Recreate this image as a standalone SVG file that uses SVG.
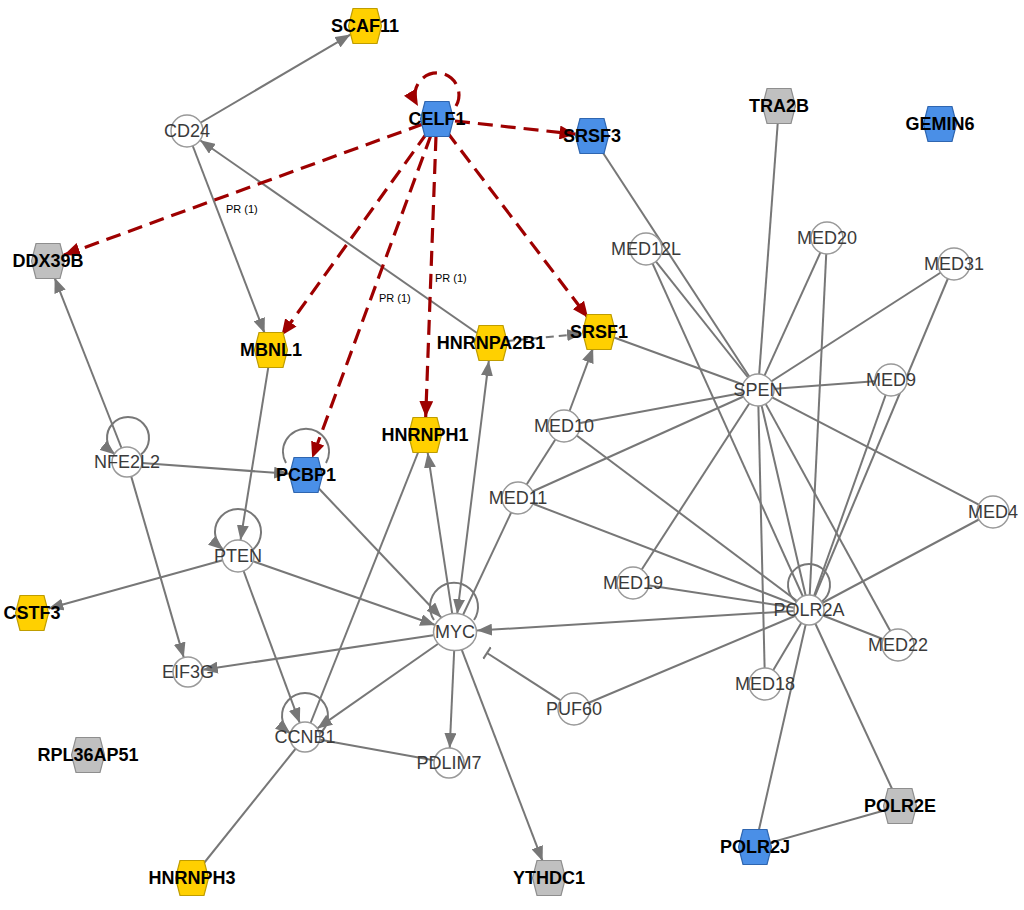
<svg xmlns="http://www.w3.org/2000/svg" xmlns:xlink="http://www.w3.org/1999/xlink" width="1024" height="910" viewBox="0 0 1024 910">
<style>
.e{stroke:#777;stroke-width:2;fill:none}
.ea{stroke:#777;stroke-width:2;fill:none;marker-end:url(#ag)}
.ed{stroke:#777;stroke-width:2;fill:none;stroke-dasharray:8 5;marker-end:url(#ag)}
.r{stroke:#9E0000;stroke-width:3.2;fill:none;stroke-dasharray:15 8;marker-end:url(#ar)}
.c{fill:#fff;stroke:#999;stroke-width:1.5}
.yel{fill:#FFD000;stroke:#BF9D00;stroke-width:1.2}
.blu{fill:#4A8FE7;stroke:#2F66B0;stroke-width:1.2}
.gry{fill:#C0C0C0;stroke:#8E8E8E;stroke-width:1.2}
.lb{font-family:"Liberation Sans",Arial,sans-serif;font-weight:bold;font-size:18px;fill:#000;text-anchor:middle}
.lc{font-family:"Liberation Sans",Arial,sans-serif;font-size:18px;fill:#3a3a3a;text-anchor:middle}
.pr{font-family:"Liberation Sans",Arial,sans-serif;font-size:11px;fill:#000}
</style>
<defs>
<polygon id="hex" points="-12,-17.5 12,-17.5 16.5,0 12,17.5 -12,17.5 -16.5,0"/>
<marker id="ag" markerUnits="userSpaceOnUse" markerWidth="15" markerHeight="12" refX="15" refY="6" orient="auto-start-reverse"><path d="M0,0 L15,6 L0,12 z" fill="#777"/></marker>
<marker id="ar" markerUnits="userSpaceOnUse" markerWidth="16" markerHeight="14" refX="16" refY="7" orient="auto"><path d="M0,0 L16,7 L0,14 z" fill="#9E0000"/></marker>
<marker id="tee" markerUnits="userSpaceOnUse" markerWidth="4" markerHeight="14" refX="2" refY="7" orient="auto"><path d="M2,0 L2,14" stroke="#777" stroke-width="2"/></marker>
</defs>
<rect width="1024" height="910" fill="#fff"/>
<g id="connectors">
<line class="e" x1="592" y1="136" x2="758" y2="390"/>
<line class="e" x1="779" y1="106" x2="758" y2="390"/>
<line class="e" x1="646" y1="249" x2="758" y2="390"/>
<line class="e" x1="646" y1="249" x2="809" y2="610"/>
<line class="e" x1="827" y1="238" x2="758" y2="390"/>
<line class="e" x1="827" y1="238" x2="809" y2="610"/>
<line class="e" x1="954" y1="264" x2="758" y2="390"/>
<line class="e" x1="954" y1="264" x2="809" y2="610"/>
<line class="e" x1="891" y1="380" x2="758" y2="390"/>
<line class="e" x1="891" y1="380" x2="809" y2="610"/>
<line class="e" x1="599" y1="332" x2="758" y2="390"/>
<line class="e" x1="564" y1="426" x2="758" y2="390"/>
<line class="e" x1="564" y1="426" x2="809" y2="610"/>
<line class="e" x1="518" y1="498" x2="758" y2="390"/>
<line class="e" x1="518" y1="498" x2="809" y2="610"/>
<line class="e" x1="518" y1="498" x2="564" y2="426"/>
<line class="e" x1="455" y1="632" x2="518" y2="498"/>
<line class="e" x1="633" y1="583" x2="758" y2="390"/>
<line class="e" x1="633" y1="583" x2="809" y2="610"/>
<line class="e" x1="993" y1="512" x2="758" y2="390"/>
<line class="e" x1="993" y1="512" x2="809" y2="610"/>
<line class="e" x1="898" y1="645" x2="758" y2="390"/>
<line class="e" x1="898" y1="645" x2="809" y2="610"/>
<line class="e" x1="765" y1="684" x2="758" y2="390"/>
<line class="e" x1="765" y1="684" x2="809" y2="610"/>
<line class="e" x1="758" y1="390" x2="809" y2="610"/>
<line class="e" x1="809" y1="610" x2="574" y2="709"/>
<line class="e" x1="809" y1="610" x2="755" y2="847"/>
<line class="e" x1="809" y1="610" x2="900" y2="806"/>
<line class="e" x1="755" y1="847" x2="900" y2="806"/>
<line class="e" x1="305" y1="737" x2="449" y2="763"/>
<line class="e" x1="305" y1="737" x2="425" y2="435"/>
<line class="e" x1="305" y1="737" x2="192" y2="878"/>
<line class="ea" x1="200" y1="123" x2="350.4" y2="34.6"/>
<line class="ea" x1="192.4" y1="145" x2="264.6" y2="333.2"/>
<line class="ea" x1="477" y1="333" x2="200.1" y2="140.2"/>
<line class="ed" x1="507" y1="341" x2="582" y2="333.7"/>
<line class="ea" x1="569.2" y1="412" x2="593.1" y2="347.9"/>
<line class="ea" x1="268.2" y1="367.8" x2="240.5" y2="540.2"/>
<line class="ea" x1="121.5" y1="448" x2="54.6" y2="277.8"/>
<line class="ea" x1="142" y1="463" x2="289" y2="473.8"/>
<line class="ea" x1="131.2" y1="476.4" x2="183.8" y2="657.6"/>
<line class="ea" x1="222.6" y1="560.3" x2="48.4" y2="608.5"/>
<line class="ea" x1="253.1" y1="561.3" x2="435.2" y2="625"/>
<line class="ea" x1="243.6" y1="571" x2="299.8" y2="722.9"/>
<line class="ea" x1="317.7" y1="487.3" x2="441.2" y2="617.5"/>
<line class="ea" x1="452.3" y1="614.2" x2="427.7" y2="452.8"/>
<line class="ea" x1="457.2" y1="614.1" x2="488.8" y2="360.9" marker-start="url(#ag)"/>
<line class="ea" x1="433.2" y1="635.3" x2="202.8" y2="669.8"/>
<line class="ea" x1="437.8" y1="644" x2="317.3" y2="728.4"/>
<line class="ea" x1="454.2" y1="650" x2="449.7" y2="748"/>
<line class="ea" x1="461.4" y1="648.8" x2="542.6" y2="861.2"/>
<line class="ea" x1="794" y1="611" x2="477" y2="630.6"/>
<line class="e" x1="561.4" y1="700.9" x2="487" y2="653" marker-end="url(#tee)"/>
<path class="ea" d="M252.7,549.7 A23,23 0 1 0 223.3,549.7"/>
<path class="ea" d="M141,454.5 A21,21 0 1 0 115,454.5"/>
<path class="ea" d="M319.6,733.7 A23,23 0 1 0 290.4,733.7"/>
<path class="e" d="M474,620 A24,24 0 1 0 434,620"/>
<path class="e" d="M326,463 A23,23 0 1 0 286,463"/>
<path class="e" d="M821.6,601.8 A21,21 0 1 0 796.4,601.8"/>
<line class="r" x1="455" y1="121" x2="575.6" y2="134.2"/>
<line class="r" x1="423" y1="124" x2="64" y2="255"/>
<line class="r" x1="427" y1="133" x2="281.5" y2="335.4"/>
<line class="r" x1="431" y1="135" x2="312.2" y2="458.1"/>
<line class="r" x1="436" y1="136" x2="425.7" y2="417"/>
<line class="r" x1="447" y1="132" x2="588.1" y2="317.7"/>
<path class="r" d="M456,106 A22,22 0 1 0 418,106"/>
<text class="pr" x="226" y="213">PR (1)</text>
<text class="pr" x="379" y="302">PR (1)</text>
<text class="pr" x="435" y="282">PR (1)</text>
</g>
<g id="n-SCAF11"><use href="#hex" x="365" y="26" class="yel"/><text class="lb" x="365" y="32">SCAF11</text></g>
<g id="n-CD24"><circle class="c" cx="187" cy="131" r="16"/><text class="lc" x="187" y="137">CD24</text></g>
<g id="n-CELF1"><use href="#hex" x="437" y="119" class="blu"/><text class="lb" x="437" y="125">CELF1</text></g>
<g id="n-SRSF3"><use href="#hex" x="592" y="136" class="blu"/><text class="lb" x="592" y="142">SRSF3</text></g>
<g id="n-TRA2B"><use href="#hex" x="779" y="106" class="gry"/><text class="lb" x="779" y="112">TRA2B</text></g>
<g id="n-GEMIN6"><use href="#hex" x="940" y="124" class="blu"/><text class="lb" x="940" y="130">GEMIN6</text></g>
<g id="n-DDX39B"><use href="#hex" x="48" y="261" class="gry"/><text class="lb" x="48" y="267">DDX39B</text></g>
<g id="n-MED12L"><circle class="c" cx="646" cy="249" r="16"/><text class="lc" x="646" y="255">MED12L</text></g>
<g id="n-MED20"><circle class="c" cx="827" cy="238" r="16"/><text class="lc" x="827" y="244">MED20</text></g>
<g id="n-MED31"><circle class="c" cx="954" cy="264" r="16"/><text class="lc" x="954" y="270">MED31</text></g>
<g id="n-MBNL1"><use href="#hex" x="271" y="350" class="yel"/><text class="lb" x="271" y="356">MBNL1</text></g>
<g id="n-HNRNPA2B1"><use href="#hex" x="491" y="343" class="yel"/><text class="lb" x="491" y="349">HNRNPA2B1</text></g>
<g id="n-SRSF1"><use href="#hex" x="599" y="332" class="yel"/><text class="lb" x="599" y="338">SRSF1</text></g>
<g id="n-SPEN"><circle class="c" cx="758" cy="390" r="16"/><text class="lc" x="758" y="396">SPEN</text></g>
<g id="n-MED9"><circle class="c" cx="891" cy="380" r="16"/><text class="lc" x="891" y="386">MED9</text></g>
<g id="n-MED10"><circle class="c" cx="564" cy="426" r="16"/><text class="lc" x="564" y="432">MED10</text></g>
<g id="n-HNRNPH1"><use href="#hex" x="425" y="435" class="yel"/><text class="lb" x="425" y="441">HNRNPH1</text></g>
<g id="n-NFE2L2"><circle class="c" cx="127" cy="462" r="15"/><text class="lc" x="127" y="468">NFE2L2</text></g>
<g id="n-PCBP1"><use href="#hex" x="306" y="475" class="blu"/><text class="lb" x="306" y="481">PCBP1</text></g>
<g id="n-MED11"><circle class="c" cx="518" cy="498" r="16"/><text class="lc" x="518" y="504">MED11</text></g>
<g id="n-MED4"><circle class="c" cx="993" cy="512" r="16"/><text class="lc" x="993" y="518">MED4</text></g>
<g id="n-PTEN"><circle class="c" cx="238" cy="556" r="16"/><text class="lc" x="238" y="562">PTEN</text></g>
<g id="n-CSTF3"><use href="#hex" x="32" y="613" class="yel"/><text class="lb" x="32" y="619">CSTF3</text></g>
<g id="n-MED19"><circle class="c" cx="633" cy="583" r="16"/><text class="lc" x="633" y="589">MED19</text></g>
<g id="n-POLR2A"><circle class="c" cx="809" cy="610" r="15"/><text class="lc" x="809" y="616">POLR2A</text></g>
<g id="n-MYC"><ellipse class="c" cx="455" cy="632" rx="21.5" ry="18.5"/><text class="lc" x="455" y="638">MYC</text></g>
<g id="n-MED22"><circle class="c" cx="898" cy="645" r="16"/><text class="lc" x="898" y="651">MED22</text></g>
<g id="n-EIF3G"><circle class="c" cx="188" cy="672" r="15"/><text class="lc" x="188" y="678">EIF3G</text></g>
<g id="n-MED18"><circle class="c" cx="765" cy="684" r="16"/><text class="lc" x="765" y="690">MED18</text></g>
<g id="n-PUF60"><circle class="c" cx="574" cy="709" r="16"/><text class="lc" x="574" y="715">PUF60</text></g>
<g id="n-CCNB1"><circle class="c" cx="305" cy="737" r="15"/><text class="lc" x="305" y="743">CCNB1</text></g>
<g id="n-PDLIM7"><circle class="c" cx="449" cy="763" r="15"/><text class="lc" x="449" y="769">PDLIM7</text></g>
<g id="n-RPL36AP51"><use href="#hex" x="88" y="755" class="gry"/><text class="lb" x="88" y="761">RPL36AP51</text></g>
<g id="n-POLR2E"><use href="#hex" x="900" y="806" class="gry"/><text class="lb" x="900" y="812">POLR2E</text></g>
<g id="n-POLR2J"><use href="#hex" x="755" y="847" class="blu"/><text class="lb" x="755" y="853">POLR2J</text></g>
<g id="n-HNRNPH3"><use href="#hex" x="192" y="878" class="yel"/><text class="lb" x="192" y="884">HNRNPH3</text></g>
<g id="n-YTHDC1"><use href="#hex" x="549" y="878" class="gry"/><text class="lb" x="549" y="884">YTHDC1</text></g>
</svg>
